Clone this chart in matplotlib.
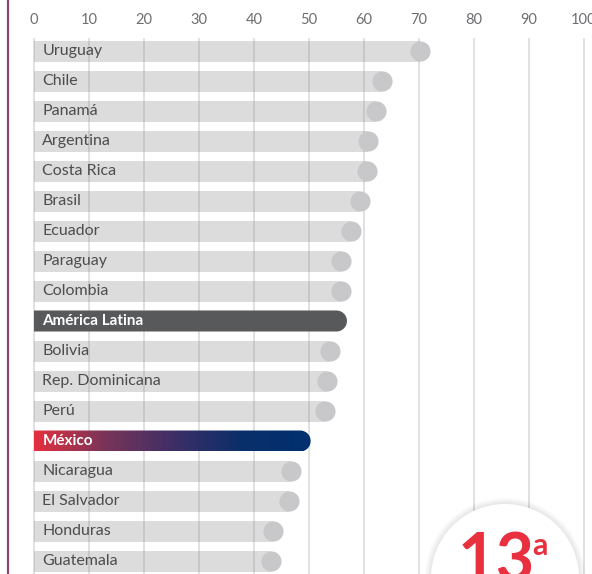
import numpy as np
import matplotlib.pyplot as plt
from matplotlib.path import Path
from matplotlib.patches import PathPatch, Circle
from matplotlib.colors import LinearSegmentedColormap

plt.rcParams['font.family'] = ['Lato', 'DejaVu Sans']

paises = ['Uruguay', 'Chile', 'Panamá', 'Argentina', 'Costa Rica', 'Brasil',
          'Ecuador', 'Paraguay', 'Colombia', 'América Latina', 'Bolivia',
          'Rep. Dominicana', 'Perú', 'México', 'Nicaragua', 'El Salvador',
          'Honduras', 'Guatemala']
valores = [70.2, 63.2, 62.1, 60.7, 60.5, 59.3, 57.6, 55.8, 55.8, 56.9, 53.8,
           53.3, 52.9, 50.3, 46.7, 46.4, 43.5, 43.1]
ticks = [0, 10, 20, 30, 40, 50, 60, 70, 80, 90, 100]
posicion = '13'

fig = plt.figure(figsize=(5.92, 5.74), dpi=100)
ax = fig.add_axes([0, 0, 1, 1])
ax.set_xlim(-34 / 5.5, 558 / 5.5)
ax.set_ylim(523 / 30, -51 / 30)
ax.axis('off')

h = 0.7  # alto de barra en filas
# radio del extremo redondeado en unidades de datos
rx = 10.5 / 5.5
ry = h / 2


def barra_redondeada(y, fin):
    t = np.linspace(np.pi / 2, -np.pi / 2, 40)
    xs = np.concatenate([[0], fin - rx + rx * np.cos(t), [0, 0]])
    ys = np.concatenate([[y - ry], y - ry * np.sin(t), [y + ry, y - ry]])
    return Path(np.column_stack([xs, ys]), closed=True)


for i, (p, v) in enumerate(zip(paises, valores)):
    if p == 'América Latina':
        ax.add_patch(PathPatch(barra_redondeada(i, v), color='#58595b', lw=0, zorder=4))
        ax.text(1.5, i, p, va='center', ha='left', fontsize=11, color='white',
                fontweight='bold', zorder=5)
    elif p == 'México':
        patch = PathPatch(barra_redondeada(i, v), facecolor='none', lw=0, zorder=4)
        ax.add_patch(patch)
        cmap = LinearSegmentedColormap.from_list(
            'mx', ['#e5303f', '#7a3558', '#3f2e66', '#0a2f6a', '#00306e'])
        grad = np.linspace(0, 1, 256).reshape(1, -1)
        im = ax.imshow(grad, cmap=cmap, aspect='auto', extent=(0, v, i + ry, i - ry),
                       zorder=4)
        im.set_clip_path(patch)
        ax.text(1.5, i, p, va='center', ha='left', fontsize=11, color='white',
                fontweight='bold', zorder=5)
    else:
        ax.barh(i, v, height=h, color='#dcdcdd', zorder=1)
        ax.scatter(v, i, s=210, color='#c8c8ca', zorder=3, linewidths=0)
        ax.text(1.5, i, p, va='center', ha='left', fontsize=11.5, color='#4d4d4f',
                zorder=5)

# lineas de rejilla
for t in ticks:
    ax.plot([t, t], [-0.4, 18], color='#8a8a8a', alpha=0.3, lw=1.2, zorder=2)
    ax.text(t, -1.03, str(t), ha='center', va='center', fontsize=10.5, color='#6d6e71')

# linea vertical izquierda
fig.add_artist(plt.Line2D([8 / 592, 8 / 592], [0, 1], color='#8e4a6e', lw=1.6))

# circulo de posicion
for k in range(8, 0, -1):
    fig.add_artist(Circle((505, -4), 74 + k * 0.8, transform=None, color='#000000',
                          alpha=0.012, lw=0))
fig.add_artist(Circle((505, -4), 74, transform=None, color='white', lw=0))
fig.text(496 / 592, 1 - 562 / 574, posicion, ha='center', va='center', fontsize=48,
         fontweight='bold', color='#e8303f')
fig.text(540 / 592, 1 - 546 / 574, 'a', ha='center', va='center', fontsize=22,
         fontweight='bold', color='#e8303f')

fig.savefig('out.png', dpi=100)
